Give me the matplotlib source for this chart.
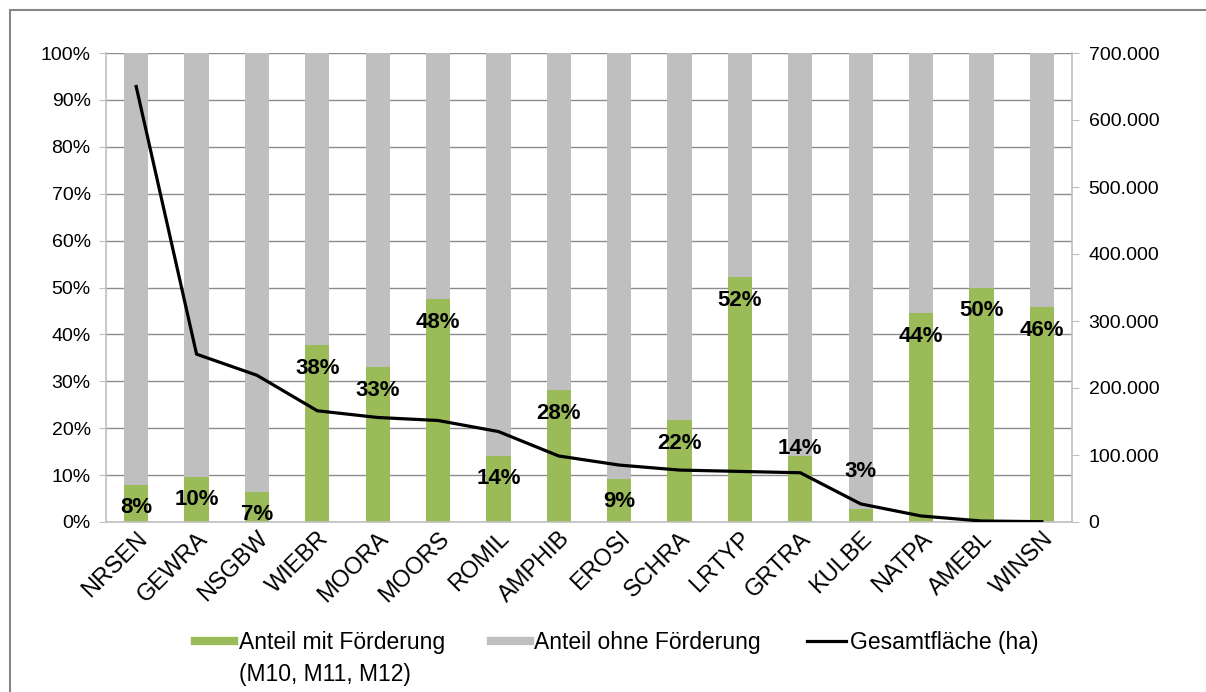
import matplotlib
matplotlib.use("Agg")
import matplotlib.pyplot as plt
from matplotlib.lines import Line2D
from matplotlib.patches import Rectangle
from matplotlib.ticker import FuncFormatter, MultipleLocator

plt.rcParams['font.family'] = ['Liberation Sans', 'DejaVu Sans']

# Kategorien (Maßnahmen)
categories = ['NRSEN', 'GEWRA', 'NSGBW', 'WIEBR', 'MOORA', 'MOORS', 'ROMIL', 'AMPHIB',
              'EROSI', 'SCHRA', 'LRTYP', 'GRTRA', 'KULBE', 'NATPA', 'AMEBL', 'WINSN']
# Anteil mit Förderung in %
share_funded = [7.9, 9.6, 6.5, 37.7, 33.0, 47.5, 14.1, 28.1,
                9.2, 21.7, 52.2, 14.1, 2.7, 44.5, 49.9, 45.8]
share_labels = ['8%', '10%', '7%', '38%', '33%', '48%', '14%', '28%',
                '9%', '22%', '52%', '14%', '3%', '44%', '50%', '46%']
# Gesamtfläche in ha
total_area = [650000, 250500, 219000, 166000, 156000, 151500, 135000, 98500,
              85000, 77500, 75500, 73500, 27000, 9000, 1500, 500]

green = '#9BBB59'
grey = '#BFBFBF'

fig = plt.figure(figsize=(12.06, 6.92), dpi=100)
ax = fig.add_axes([106 / 1206, 1 - 522 / 692, (1072 - 106) / 1206, (522 - 53) / 692])
ax2 = ax.twinx()

x = list(range(len(categories)))
share_rest = [100 - v for v in share_funded]
ax.bar(x, share_funded, width=0.4, color=green, zorder=2)
ax.bar(x, share_rest, width=0.4, bottom=share_funded, color=grey, zorder=2)

ax.set_xlim(-0.5, len(categories) - 0.5)
ax.set_ylim(0, 100)
ax.yaxis.set_major_locator(MultipleLocator(10))
ax.yaxis.set_major_formatter(FuncFormatter(lambda v, p: f'{int(round(v))}%'))
ax.grid(axis='y', color='#8C8C8C', linewidth=1.0, zorder=0)
ax.set_axisbelow(True)

for side in ['top', 'right']:
    ax.spines[side].set_visible(False)
for side in ['left', 'bottom']:
    ax.spines[side].set_color('#BFBFBF')
    ax.spines[side].set_linewidth(1.2)
ax.tick_params(axis='y', labelsize=14, length=5, color='#BFBFBF', pad=6)
ax.tick_params(axis='x', length=0, pad=4)
ax.set_xticks(x)
ax.set_xticklabels(categories, rotation=45, ha='right', va='top',
                   rotation_mode='anchor', fontsize=17)

# Linie: Gesamtfläche
ax2.plot(x, total_area, color='black', linewidth=2.3, zorder=5)
ax2.set_ylim(0, 700000)
ax2.yaxis.set_major_locator(MultipleLocator(100000))
ax2.yaxis.set_major_formatter(FuncFormatter(lambda v, p: f'{int(v):,}'.replace(',', '.')))
ax2.tick_params(axis='y', labelsize=14, length=5, color='#BFBFBF', pad=7)
for side in ['top', 'left', 'bottom']:
    ax2.spines[side].set_visible(False)
ax2.spines['right'].set_color('#BFBFBF')
ax2.spines['right'].set_linewidth(1.2)

# Datenbeschriftungen
for i, (v, lab) in enumerate(zip(share_funded, share_labels)):
    y = v - 4.9
    if categories[i] == 'GRTRA':
        y = 15.6
    if categories[i] == 'KULBE':
        y = 10.7
    ax2.text(i, y, lab, transform=ax.transData, ha='center', va='center',
             fontsize=16, fontweight='bold', zorder=10)

# Legende
handles = [Line2D([], [], color=green, linewidth=6),
           Line2D([], [], color=grey, linewidth=6),
           Line2D([], [], color='black', linewidth=2.3)]
labels = ['Anteil mit Förderung', 'Anteil ohne Förderung', 'Gesamtfläche (ha)']
leg = fig.legend(handles, labels, loc='center', bbox_to_anchor=(617 / 1206, 1 - 643 / 692),
                 ncol=3, frameon=False, fontsize=16.5, handlelength=1.7,
                 handletextpad=0.2, columnspacing=2.0)
fig.canvas.draw()
bb = leg.get_texts()[0].get_window_extent()
fig.text(bb.x0 / 1206, bb.y0 / 692 - 0.012, '(M10, M11, M12)', fontsize=16.5,
         ha='left', va='top')

# Rahmen
fig.patches.append(Rectangle((10 / 1206, -0.05), 1.1, 1 - 10 / 692 + 0.05,
                             transform=fig.transFigure, fill=False,
                             edgecolor='#868686', linewidth=1.5))

fig.savefig('out.png', dpi=100)
